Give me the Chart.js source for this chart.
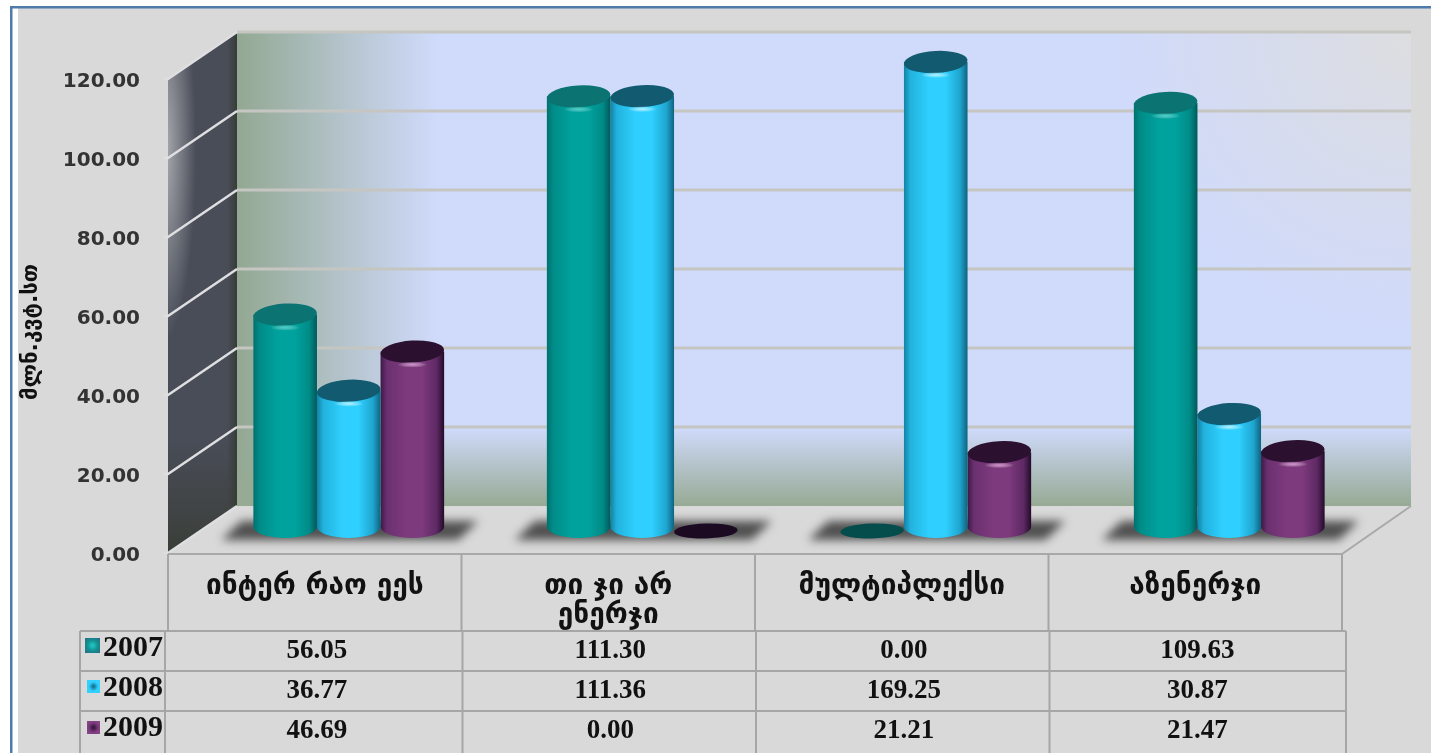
<!DOCTYPE html>
<html>
<head>
<meta charset="utf-8">
<title>chart</title>
<script src="https://cdn.jsdelivr.net/npm/chart.js@4"></script>
<style>
  body { margin: 0; background: #ffffff; }
  canvas { display: block; }
</style>
</head>
<body>
<canvas id="chart" width="1431" height="753"></canvas>
<script>
// data
const categories = [
  "ინტერ რაო ეეს",
  ["თი ჯი არ", "ენერჯი"],
  "მულტიპლექსი",
  "აზენერჯი",
];
const years = ["2007", "2008", "2009"];
const values2007 = [56.05, 111.3, 0, 109.63];
const values2008 = [36.77, 111.36, 169.25, 30.87];
const values2009 = [46.69, 0, 21.21, 21.47];
const yTitle = "მლნ.კვტ.სთ";
const yMax = 120;
const yStep = 20;

const seriesValues = [values2007, values2008, values2009];

// depth of the fake 3d box
const depthX = 69;
const depthY = 47;
const barShiftX = 34;
const barShiftY = 17;
const footValue = 2.3;

const stopAt = [0, 0.1, 0.4, 0.65, 0.88, 1];
const looks = [
  {
    stops: ["#00716f", "#008c88", "#00a29e", "#00a29e", "#008b87", "#00585a"],
    cap: "#0b7472",
    disc: "#054c4c",
    glow: "rgba(120,235,225,0.6)",
    swatch: ["#20c0c0", "#12908f", "#2c6a88"],
  },
  {
    stops: ["#1282a5", "#22b2dd", "#2fd0ff", "#2fd0ff", "#1fa5cf", "#0d6480"],
    cap: "#115a70",
    disc: "#115a70",
    glow: "rgba(210,250,255,0.8)",
    swatch: ["#1a7a9a", "#2fd0ff", "#39d0f8"],
  },
  {
    stops: ["#3a1a45", "#6b3070", "#7d3a7d", "#7d3a7d", "#5e2964", "#240b2a"],
    cap: "#2b1030",
    disc: "#1c0a22",
    glow: "rgba(240,170,230,0.75)",
    swatch: ["#3a1a40", "#7d3a7d", "#8a4a8a"],
  },
];

function barGradient(context) {
  const chart = context.chart;
  const look = looks[context.datasetIndex];
  if (context.dataIndex === undefined || !chart.scales.x) {
    return "rgba(0,0,0,0)";
  }
  if (seriesValues[context.datasetIndex][context.dataIndex] === 0) {
    return "rgba(0,0,0,0)";
  }
  const scale = chart.scales.x;
  const band = (scale.right - scale.left) / categories.length;
  const w = (band * 0.65) / years.length;
  const c = scale.getPixelForValue(context.dataIndex) + (context.datasetIndex - 1) * w;
  if (!Number.isFinite(c)) {
    return look.stops[2];
  }
  const g = chart.ctx.createLinearGradient(c - w / 2, 0, c + w / 2, 0);
  stopAt.forEach((p, i) => g.addColorStop(p, look.stops[i]));
  return g;
}

function drawBox(chart) {
  const { ctx, chartArea: a, scales } = chart;
  const y = scales.y;
  const wallL = a.left + depthX;
  const wallR = a.right + depthX;
  const wallT = a.top - depthY;
  const wallB = a.bottom - depthY;

  // frame and panel
  ctx.save();
  ctx.fillStyle = "#ffffff";
  ctx.fillRect(0, 0, chart.width, chart.height);
  ctx.fillStyle = "#d9d9d9";
  ctx.fillRect(18, 8, chart.width - 18, chart.height - 8);
  ctx.fillStyle = "#4f7bab";
  ctx.fillRect(10, 6, chart.width - 10, 2.5);
  ctx.fillRect(10, 6, 2.5, chart.height - 6);

  // back wall
  ctx.fillStyle = "#d0dafb";
  ctx.fillRect(wallL, wallT, wallR - wallL, wallB - wallT);
  let g = ctx.createLinearGradient(wallL, 0, wallL + 200, 0);
  g.addColorStop(0, "rgba(146,168,146,1)");
  g.addColorStop(0.7, "rgba(146,168,146,0.28)");
  g.addColorStop(1, "rgba(146,168,146,0)");
  ctx.fillStyle = g;
  ctx.fillRect(wallL, wallT, 200, wallB - wallT);
  g = ctx.createLinearGradient(0, wallB - 78, 0, wallB);
  g.addColorStop(0, "rgba(150,170,148,0)");
  g.addColorStop(1, "rgba(150,170,148,1)");
  ctx.fillStyle = g;
  ctx.fillRect(wallL, wallB - 78, wallR - wallL, 78);
  g = ctx.createRadialGradient(wallR, wallT, 10, wallR, wallT, 300);
  g.addColorStop(0, "rgba(222,222,222,0.9)");
  g.addColorStop(1, "rgba(222,222,222,0)");
  ctx.save();
  ctx.beginPath();
  ctx.rect(wallL, wallT, wallR - wallL, wallB - wallT);
  ctx.clip();
  ctx.fillStyle = g;
  ctx.fillRect(wallR - 300, wallT, 300, 300);
  ctx.restore();

  // left wall
  ctx.save();
  ctx.beginPath();
  ctx.moveTo(a.left, a.top);
  ctx.lineTo(wallL, wallT);
  ctx.lineTo(wallL, wallB);
  ctx.lineTo(a.left, a.bottom);
  ctx.closePath();
  ctx.clip();
  ctx.fillStyle = "#494d58";
  ctx.fillRect(a.left, wallT, depthX, a.bottom - wallT);
  g = ctx.createLinearGradient(0, a.top, 0, a.bottom);
  g.addColorStop(0, "rgba(60,64,60,0)");
  g.addColorStop(0.75, "rgba(60,64,60,0)");
  g.addColorStop(1, "rgba(58,62,56,1)");
  ctx.fillStyle = g;
  ctx.fillRect(a.left, wallT, depthX, a.bottom - wallT);
  // soft highlight, upper left of the wall
  ctx.save();
  ctx.translate(a.left - 4, a.top + 70);
  ctx.scale(1, 6);
  g = ctx.createRadialGradient(0, 0, 0, 0, 0, 32);
  g.addColorStop(0, "rgba(190,192,196,0.85)");
  g.addColorStop(1, "rgba(190,192,196,0)");
  ctx.fillStyle = g;
  ctx.fillRect(-32, -32, 64, 64);
  ctx.restore();
  g = ctx.createLinearGradient(wallL - 10, 0, wallL, 0);
  g.addColorStop(0, "rgba(55,60,56,0)");
  g.addColorStop(1, "rgba(55,60,56,1)");
  ctx.fillStyle = g;
  ctx.fillRect(wallL - 10, wallT, 10, wallB - wallT);
  ctx.restore();

  // grid lines, both walls
  y.ticks.forEach((tick) => {
    const p = y.getPixelForValue(tick.value);
    if (tick.value > 0) {
      ctx.strokeStyle = "#c5c5c2";
      ctx.lineWidth = 3;
      ctx.beginPath();
      ctx.moveTo(wallL, p - depthY);
      ctx.lineTo(wallR, p - depthY);
      ctx.stroke();
    }
    ctx.strokeStyle = "#dfdfe2";
    ctx.lineWidth = 2.5;
    ctx.beginPath();
    ctx.moveTo(a.left - 4, p);
    ctx.lineTo(a.left, p);
    ctx.lineTo(wallL, p - depthY);
    ctx.stroke();
  });

  // floor edges
  ctx.strokeStyle = "#a9a9a9";
  ctx.lineWidth = 2;
  ctx.beginPath();
  ctx.moveTo(a.left, a.bottom + 1);
  ctx.lineTo(a.right, a.bottom + 1);
  ctx.lineTo(wallR, wallB);
  ctx.stroke();
  ctx.restore();
}

function drawShadows(chart) {
  const { ctx } = chart;
  const first = chart.getDatasetMeta(0).data;
  const last = chart.getDatasetMeta(years.length - 1).data;
  ctx.save();
  ctx.filter = "blur(5px)";
  ctx.fillStyle = "rgba(45,45,45,0.8)";
  first.forEach((bar, i) => {
    const l = bar.x - bar.width / 2 + barShiftX - 32;
    const r = last[i].x + last[i].width / 2 + barShiftX + 34;
    // skewed patch on the floor, leans with the depth
    ctx.beginPath();
    ctx.moveTo(l + 20, 521);
    ctx.lineTo(r, 521);
    ctx.lineTo(r - 20, 540);
    ctx.lineTo(l, 540);
    ctx.closePath();
    ctx.fill();
  });
  ctx.restore();
}

function drawCylinderEnds(chart, datasetIndex) {
  const { ctx, chartArea: a } = chart;
  const look = looks[datasetIndex];
  const bars = chart.getDatasetMeta(datasetIndex).data;
  const footY = chart.scales.y.getPixelForValue(footValue);
  bars.forEach((bar, i) => {
    const rx = bar.width / 2;
    if (seriesValues[datasetIndex][i] === 0) {
      ctx.fillStyle = look.disc;
      ctx.beginPath();
      ctx.ellipse(bar.x, chart.scales.y.getPixelForValue(0) - 5, rx, 7.5, -0.03, 0, Math.PI * 2);
      ctx.fill();
      return;
    }
    // rounded foot
    const g = ctx.createLinearGradient(bar.x - rx, 0, bar.x + rx, 0);
    stopAt.forEach((p, n) => g.addColorStop(p, look.stops[n]));
    ctx.fillStyle = g;
    ctx.beginPath();
    ctx.ellipse(bar.x, footY, rx, 11, 0, 0, Math.PI);
    ctx.fill();
    // top
    const topY = Math.max(bar.y, a.top);
    ctx.fillStyle = look.cap;
    ctx.beginPath();
    ctx.ellipse(bar.x, topY, rx, 11, -0.06, 0, Math.PI * 2);
    ctx.fill();
    const glow = ctx.createRadialGradient(bar.x, topY + 13, 0, bar.x, topY + 13, 15);
    glow.addColorStop(0, look.glow);
    glow.addColorStop(1, "rgba(255,255,255,0)");
    ctx.save();
    ctx.translate(0, (topY + 13) * 0.8);
    ctx.scale(1, 0.2);
    ctx.fillStyle = glow;
    ctx.fillRect(bar.x - 15, topY - 2, 30, 30);
    ctx.restore();
  });
}

function drawSwatch(ctx, x, y, size, look) {
  const c = size / 2;
  const g = ctx.createRadialGradient(x + c, y + c, 1, x + c, y + c, size * 0.7);
  g.addColorStop(0, look.swatch[0]);
  g.addColorStop(0.45, look.swatch[1]);
  g.addColorStop(1, look.swatch[2]);
  ctx.fillStyle = g;
  ctx.fillRect(x, y, size, size);
}

function drawTable(chart) {
  const { ctx, chartArea: a, scales } = chart;
  const x = scales.x;
  const band = (a.right - a.left) / categories.length;
  const rowTop = 631;
  const rowH = 40;
  const left = 80;
  const firstCol = 165;
  const tableR = a.right + 4;

  ctx.save();
  ctx.strokeStyle = "#a6a6a6";
  ctx.lineWidth = 2;
  ctx.beginPath();
  // header cells
  for (let i = 0; i <= categories.length; i++) {
    const p = a.left + i * band;
    ctx.moveTo(p, a.bottom + 1);
    ctx.lineTo(p, rowTop);
  }
  // value rows
  for (let r = 0; r < years.length; r++) {
    ctx.moveTo(left, rowTop + r * rowH);
    ctx.lineTo(tableR, rowTop + r * rowH);
  }
  ctx.moveTo(left, rowTop);
  ctx.lineTo(left, chart.height);
  ctx.moveTo(firstCol, rowTop);
  ctx.lineTo(firstCol, chart.height);
  for (let i = 1; i <= categories.length; i++) {
    const p = a.left + i * band + (i === categories.length ? 4 : 1);
    ctx.moveTo(p, rowTop);
    ctx.lineTo(p, chart.height);
  }
  ctx.stroke();

  ctx.textBaseline = "middle";
  years.forEach((year, r) => {
    const mid = rowTop + r * rowH + rowH / 2;
    drawSwatch(ctx, r === 0 ? 85 : 87, mid - (r === 0 ? 13 : 12 - r), r === 0 ? 15 : 13, looks[r]);
    ctx.fillStyle = "#111111";
    ctx.font = 'bold 30px "Liberation Serif"';
    ctx.textAlign = "left";
    ctx.fillText(year, 103, mid - 3);
    ctx.font = 'bold 27px "Liberation Serif"';
    ctx.textAlign = "center";
    seriesValues[r].forEach((v, i) => {
      ctx.fillText(v.toFixed(2), x.getPixelForValue(i) + 2, mid);
    });
  });

  // axis title
  ctx.translate(31, 332);
  ctx.rotate(-Math.PI / 2);
  ctx.font = 'bold 22px "DejaVu Sans"';
  ctx.textAlign = "center";
  ctx.fillText(yTitle, 0, 0);
  ctx.restore();
}

const boxPlugin = {
  id: "box3d",
  beforeDraw(chart) {
    drawBox(chart);
  },
  beforeDatasetsDraw(chart) {
    drawShadows(chart);
    chart.ctx.save();
    chart.ctx.translate(barShiftX, -barShiftY);
  },
  afterDatasetDraw(chart, args) {
    drawCylinderEnds(chart, args.index);
  },
  afterDatasetsDraw(chart) {
    chart.ctx.restore();
  },
  afterDraw(chart) {
    drawTable(chart);
  },
};

const datasets = years.map((year, i) => ({
  label: year,
  data: seriesValues[i],
  base: footValue,
  backgroundColor: barGradient,
  borderWidth: 0,
}));

new Chart(document.getElementById("chart"), {
  type: "bar",
  data: { labels: categories, datasets: datasets },
  plugins: [boxPlugin],
  options: {
    responsive: false,
    animation: false,
    layout: {
      autoPadding: false,
      padding: { top: 79, right: 89, left: 0, bottom: 0 },
    },
    datasets: {
      bar: { categoryPercentage: 0.65, barPercentage: 1 },
    },
    plugins: {
      legend: { display: false },
      title: { display: false },
    },
    scales: {
      x: {
        grid: { display: false, drawTicks: false },
        border: { display: false },
        afterFit(scale) {
          scale.height = 200;
        },
        ticks: {
          autoSkip: false,
          maxRotation: 0,
          padding: 19,
          color: "#111111",
          font: { family: "DejaVu Sans", size: 28, weight: "bold", lineHeight: 1.03 },
        },
      },
      y: {
        min: 0,
        max: yMax,
        grid: { display: false, drawTicks: false },
        border: { display: false },
        afterFit(scale) {
          scale.width = 168;
        },
        ticks: {
          stepSize: yStep,
          padding: 28,
          labelOffset: 3,
          color: "#333333",
          font: { family: "DejaVu Sans", size: 20, weight: "bold" },
          callback: (v) => Number(v).toFixed(2),
        },
      },
    },
  },
});
</script>
</body>
</html>
